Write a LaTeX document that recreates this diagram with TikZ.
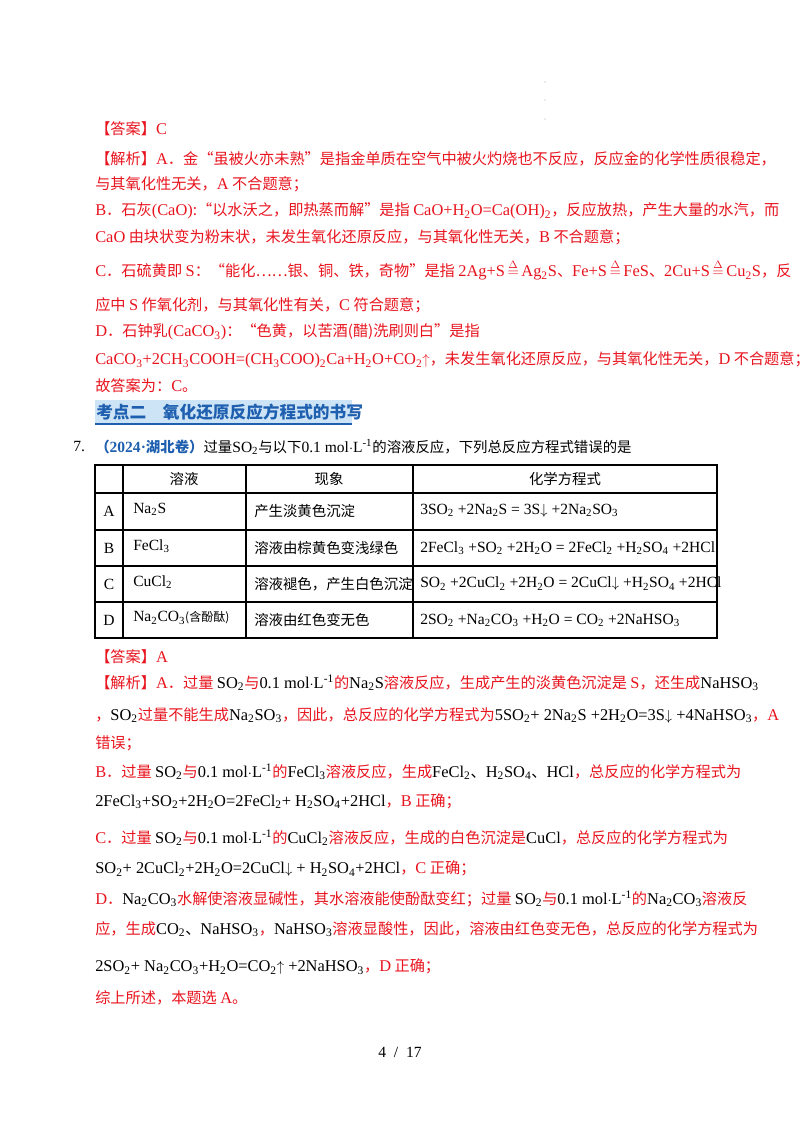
\documentclass[tikz,border=0pt]{standalone}
\usepackage{fontspec}
\setmainfont{Noto Sans CJK SC}
\newfontfamily\lt{Liberation Serif}[Scale=1.08]
\newfontfamily\zh{Noto Sans CJK SC}
\definecolor{rd}{RGB}{232,20,30}
\definecolor{hb}{RGB}{30,95,175}
\definecolor{hl}{RGB}{205,228,246}
\newcommand\s[1]{\textsubscript{#1}}
\newcommand\kk[1]{{\color{black}\lt #1}}
\newcommand\rr[1]{{\lt #1}}
\newcommand\mo{{\lt 0.1 mol${\cdot}$L\textsuperscript{-1}}}
\newcommand\heat{\(\stackrel{\Delta}{=}\)}
\begin{document}
\begin{tikzpicture}[x=0.75pt,y=-0.75pt,
  tx/.style={anchor=west,inner sep=0,font=\fontsize{11.4}{14}\selectfont,text=rd},
  tb/.style={anchor=west,inner sep=0,font=\fontsize{10.8}{14}\selectfont,text=black},
  tc/.style={anchor=center,inner sep=0,font=\fontsize{10.8}{14}\selectfont,text=black},
  grid/.style={draw=black,line width=0.9pt}]
\useasboundingbox (0,0) rectangle (800,1132);
\fill[gray!60] (545,82) circle (0.6) (545,100) circle (0.6) (545,119) circle (0.6);
\node[tx] (a1) at (95,129) {【答案】\rr{C}};
\node[tx] (l1) at (95,159) {【解析】\rr{A}．金“虽被火亦未熟”是指金单质在空气中被火灼烧也不反应，反应金的化学性质很稳定，};
\node[tx] (l2) at (95,184) {与其氧化性无关，\rr{A} 不合题意；};
\node[tx] (l3) at (95,211) {\rr{B}．石灰\rr{(CaO)}:“以水沃之，即热蒸而解”是指 \rr{CaO+H\s2O=Ca(OH)\s2}，反应放热，产生大量的水汽，而};
\node[tx] (l4) at (95,237) {\rr{CaO} 由块状变为粉末状，未发生氧化还原反应，与其氧化性无关，\rr{B} 不合题意；};
\node[tx] (l5) at (95,270) {\rr{C}．石硫黄即 \rr{S}：“能化……银、铜、铁，奇物”是指 \rr{2Ag+S}\,\heat\,\rr{Ag\s2S}、\rr{Fe+S}\,\heat\,\rr{FeS}、\rr{2Cu+S}\,\heat\,\rr{Cu\s2S}，反};
\node[tx] (l6) at (95,305) {应中 \rr{S} 作氧化剂，与其氧化性有关，\rr{C} 符合题意；};
\node[tx] (l7) at (95,332) {\rr{D}．石钟乳\rr{(CaCO\s3)}：“色黄，以苦酒(醋)洗刷则白”是指};
\node[tx] (l8) at (95,360) {\rr{CaCO\s3+2CH\s3COOH=(CH\s3COO)\s2Ca+H\s2O+CO\s2$\uparrow$}，未发生氧化还原反应，与其氧化性无关，\rr{D} 不合题意；};
\node[tx] (l9) at (95,386) {故答案为：\rr{C}。};
\fill[hl] (95,400) rectangle (352,424);
\draw[hb,line width=1pt] (95,424) -- (352,424);
\node[tx,text=hb,font=\fontsize{12.5}{14}\selectfont\bfseries] (hd) at (96,412) {考点二\quad 氧化还原反应方程式的书写};
\node[tb] (q7) at (73,447) {\lt 7.};
\node[tb] (qt) at (95,447) {{\color{hb}\bfseries （{\lt\bfseries 2024\textperiodcentered}湖北卷）}过量\kk{SO\s2}与以下\mo 的溶液反应，下列总反应方程式错误的是};
% table
\draw[grid] (95,465) rectangle (717,638);
\foreach \yy in {493,530,566,602} \draw[grid] (95,\yy) -- (717,\yy);
\foreach \xx in {123,246,413} \draw[grid] (\xx,465) -- (\xx,638);
\node[tc] (h1) at (184,479) {溶液};
\node[tc] (h2) at (329,479) {现象};
\node[tc] (h3) at (565,479) {化学方程式};
\node[tc] (ra) at (109,511) {\lt A};
\node[tc] (rb) at (109,548) {\lt B};
\node[tc] (rc) at (109,584) {\lt C};
\node[tc] (rd) at (109,620) {\lt D};
\node[tb] (a2) at (133,509) {\lt Na\s2S};
\node[tb] (b2) at (133,546) {\lt FeCl\s3};
\node[tb] (c2) at (133,582) {\lt CuCl\s2};
\node[tb] (d2) at (133,618) {{\lt Na\s2CO\s3}{\small (含酚酞)}};
\node[tb] (a3) at (254,511) {产生淡黄色沉淀};
\node[tb] (b3) at (254,548) {溶液由棕黄色变浅绿色};
\node[tb] (c3) at (254,584) {溶液褪色，产生白色沉淀};
\node[tb] (d3) at (254,620) {溶液由红色变无色};
\node[tb] (a4) at (420,511) {\lt 3SO\s2 +2Na\s2S = 3S$\downarrow$ +2Na\s2SO\s3};
\node[tb] (b4) at (420,548) {\lt 2FeCl\s3 +SO\s2 +2H\s2O = 2FeCl\s2 +H\s2SO\s4 +2HCl};
\node[tb] (c4) at (420,584) {\lt SO\s2 +2CuCl\s2 +2H\s2O = 2CuCl$\downarrow$ +H\s2SO\s4 +2HCl};
\node[tb] (d4) at (420,620) {\lt 2SO\s2 +Na\s2CO\s3 +H\s2O = CO\s2 +2NaHSO\s3};
% answer 2
\node[tx] (b1) at (95,657) {【答案】\rr{A}};
\node[tx] (m1) at (95,683) {【解析】\rr{A}．过量 \kk{SO\s2}与\kk{\mo}的\kk{Na\s2S}溶液反应，生成产生的淡黄色沉淀是 \rr{S}，还生成\kk{NaHSO\s3}};
\node[tx] (m2) at (95,715) {，\kk{SO\s2}过量不能生成\kk{Na\s2SO\s3}，因此，总反应的化学方程式为\kk{5SO\s2+ 2Na\s2S +2H\s2O=3S$\downarrow$ +4NaHSO\s3}，\rr{A}};
\node[tx] (m3) at (95,743) {错误；};
\node[tx] (m4) at (95,772) {\rr{B}．过量 \kk{SO\s2}与\kk{\mo}的\kk{FeCl\s3}溶液反应，生成\kk{FeCl\s2}{\color{black}、}\kk{H\s2SO\s4}{\color{black}、}\kk{HCl}，总反应的化学方程式为};
\node[tx] (m5) at (95,801) {\kk{2FeCl\s3+SO\s2+2H\s2O=2FeCl\s2+ H\s2SO\s4+2HCl}，\rr{B} 正确；};
\node[tx] (m6) at (95,838) {\rr{C}．过量 \kk{SO\s2}与\kk{\mo}的\kk{CuCl\s2}溶液反应，生成的白色沉淀是\kk{CuCl}，总反应的化学方程式为};
\node[tx] (m7) at (95,869) {\kk{SO\s2+ 2CuCl\s2+2H\s2O=2CuCl$\downarrow$ + H\s2SO\s4+2HCl}，\rr{C} 正确；};
\node[tx] (m8) at (95,899) {\rr{D}．\kk{Na\s2CO\s3}水解使溶液显碱性，其水溶液能使酚酞变红；过量 \kk{SO\s2}与\kk{\mo}的\kk{Na\s2CO\s3}溶液反};
\node[tx] (m9) at (95,929) {应，生成\kk{CO\s2}{\color{black}、}\kk{NaHSO\s3}，\kk{NaHSO\s3}溶液显酸性，因此，溶液由红色变无色，总反应的化学方程式为};
\node[tx] (m10) at (95,967) {\kk{2SO\s2+ Na\s2CO\s3+H\s2O=CO\s2$\uparrow$ +2NaHSO\s3}，\rr{D} 正确；};
\node[tx] (m11) at (95,998) {综上所述，本题选 \rr{A}。};
\node[tc] (pg) at (400,1052) {\lt 4\ \ /\ \ 17};
\end{tikzpicture}
\end{document}
